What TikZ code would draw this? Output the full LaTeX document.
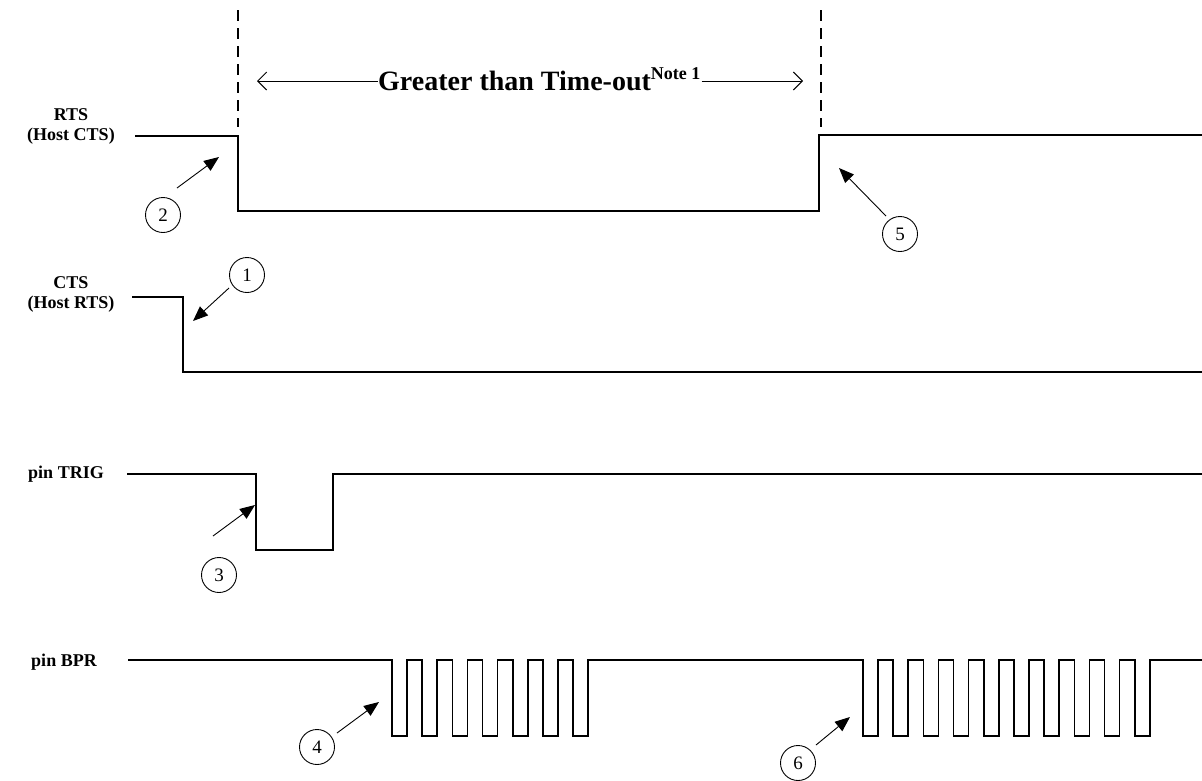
\documentclass[tikz,border=0pt]{standalone}
\usepackage{fontspec}
\setmainfont{Liberation Serif}
\usetikzlibrary{arrows.meta}
\begin{document}
\begin{tikzpicture}[x=1pt,y=-1pt,
  signal/.style={line width=1.6pt,line join=miter},
  guide/.style={line width=1.3pt,dash pattern=on 11pt off 7pt},
  callout/.style={line width=0.9pt,-{Triangle[length=15pt,width=12pt]}},
  dimline/.style={line width=1pt},
  marker/.style={circle,draw,line width=0.9pt,minimum size=35pt,inner sep=0pt,font=\fontsize{19}{21}\selectfont},
  siglabel/.style={align=center,font=\fontsize{18}{20}\selectfont\bfseries,inner sep=0pt}]
\useasboundingbox (0,0) rectangle (1202,780);
% labels
\node[siglabel] (lrts) at (71,126) {RTS\\(Host CTS)};
\node[siglabel] (lcts) at (71,294) {CTS\\(Host RTS)};
\node[siglabel] (ltrig) at (66,474) {pin TRIG};
\node[siglabel] (lbpr) at (64,662) {pin BPR};
% dashed guides
\draw[guide] (238,10) -- (238,127);
\draw[guide] (821,10) -- (821,127);
% dimension
\node[anchor=base west,inner sep=1pt,font=\fontsize{28}{32}\selectfont\bfseries] (dim) at (377,90)
  {Greater than Time-out\raisebox{11pt}{\fontsize{18}{20}\selectfont Note 1}};
\coordinate (dl) at (257,81);
\coordinate (dr) at (803,81);
\coordinate (dtl) at (378,81);
\coordinate (dtr) at (dim.east |- dr);
\draw[dimline,{Straight Barb[length=9pt,width=18pt]}-] (dl) -- (dtl);
\draw[dimline,-{Straight Barb[length=9pt,width=18pt]}] (dtr) -- (dr);
% signals
\draw[signal] (135,136) -- (238,136) -- (238,211) -- (819,211) -- (819,135) -- (1202,135);
\draw[signal] (132,297) -- (183,297) -- (183,372) -- (1202,372);
\draw[signal] (127,474) -- (256,474) -- (256,550) -- (333,550) -- (333,474) -- (1202,474);
\draw[signal] (128,660) -- (392,660)
  \foreach \i in {0,...,6} { -- ({392+30.2*\i},660) -- ({392+30.2*\i},736) -- ({407+30.2*\i},736) -- ({407+30.2*\i},660) }
  -- (863,660)
  \foreach \i in {0,...,9} { -- ({863+30.2*\i},660) -- ({863+30.2*\i},736) -- ({878+30.2*\i},736) -- ({878+30.2*\i},660) }
  -- (1202,660);
% markers
\node[marker] (c1) at (247,275) {1};
\node[marker] (c2) at (163,215) {2};
\node[marker] (c3) at (219,575) {3};
\node[marker] (c4) at (317,747) {4};
\node[marker] (c5) at (900,234) {5};
\node[marker] (c6) at (798,763) {6};
% callout arrows
\coordinate (a1) at (229,288); \coordinate (t1) at (193,321);
\coordinate (a2) at (177,188); \coordinate (t2) at (219,157);
\coordinate (a3) at (213,536); \coordinate (t3) at (255,505);
\coordinate (a4) at (337,733); \coordinate (t4) at (379,702);
\coordinate (a5) at (886,216); \coordinate (t5) at (839,168);
\coordinate (a6) at (816,745); \coordinate (t6) at (850,717);
\draw[callout] (a1) -- (t1);
\draw[callout] (a2) -- (t2);
\draw[callout] (a3) -- (t3);
\draw[callout] (a4) -- (t4);
\draw[callout] (a5) -- (t5);
\draw[callout] (a6) -- (t6);
\end{tikzpicture}
\end{document}
